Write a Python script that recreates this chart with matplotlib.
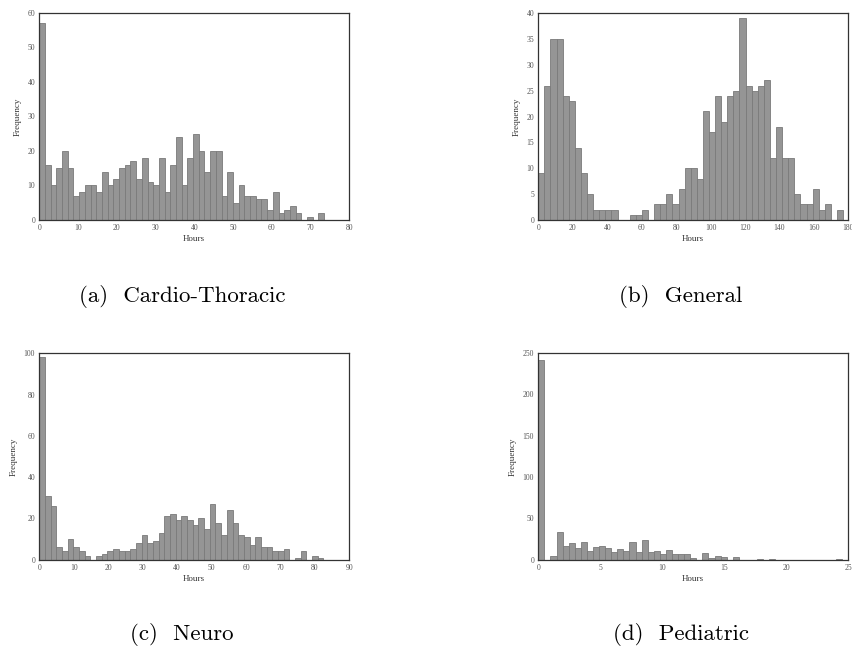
import numpy as np
import matplotlib
matplotlib.use("Agg")
import matplotlib.pyplot as plt

# ---- data: histogram counts (50 bins each) ----
cardio_counts = [57, 16, 10, 15, 20, 15, 7, 8, 10, 10, 8, 14, 10, 12, 15, 16, 17, 12, 18, 11,
                 10, 18, 8, 16, 24, 10, 18, 25, 20, 14, 20, 20, 7, 14, 5, 10, 7, 7, 6, 6,
                 3, 8, 2, 3, 4, 2, 0, 1, 0, 2]
cardio_max = 73.5

general_counts = [9, 26, 35, 35, 24, 23, 14, 9, 5, 2, 2, 2, 2, 0, 0, 1, 1, 2, 0, 3,
                  3, 5, 3, 6, 10, 10, 8, 21, 17, 24, 19, 24, 25, 39, 26, 25, 26, 27, 12, 18,
                  12, 12, 5, 3, 3, 6, 2, 3, 0, 2]
general_max = 177.0

neuro_counts = [98, 31, 26, 6, 4, 10, 6, 4, 2, 0, 2, 3, 4, 5, 4, 4, 5, 8, 12, 8,
                9, 13, 21, 22, 19, 21, 19, 17, 20, 15, 27, 18, 12, 24, 18, 12, 11, 7, 11, 6,
                6, 4, 4, 5, 0, 1, 4, 0, 2, 1]
neuro_max = 82.5

pediatric_counts = [242, 0, 5, 34, 16, 20, 14, 21, 11, 15, 16, 14, 9, 13, 11, 22, 9, 24, 9, 10,
                    7, 12, 7, 7, 7, 2, 0, 8, 2, 4, 3, 0, 3, 0, 0, 0, 1, 0, 1, 0,
                    0, 0, 0, 0, 0, 0, 0, 0, 0, 1]
pediatric_max = 24.5

captions = ["(a)  Cardio-Thoracic", "(b)  General", "(c)  Neuro", "(d)  Pediatric"]
xlims = [80, 180, 90, 25]
ylims = [60, 40, 100, 250]
xticks = [np.arange(0, 81, 10), np.arange(0, 181, 20), np.arange(0, 91, 10), np.arange(0, 26, 5)]
yticks = [np.arange(0, 61, 10), np.arange(0, 41, 5), np.arange(0, 101, 20), np.arange(0, 251, 50)]

panels = [(cardio_counts, cardio_max), (general_counts, general_max),
          (neuro_counts, neuro_max), (pediatric_counts, pediatric_max)]

W, H = 853, 654
fig = plt.figure(figsize=(W / 100, H / 100), dpi=100)

# axes boxes in pixels: left, top, right, bottom
boxes = [(39.3, 12.7, 349.3, 220.0), (538.3, 13.3, 848.3, 220.0),
         (39.3, 353.3, 349.3, 559.7), (538.3, 353.0, 848.3, 559.7)]
caption_pos = [(182, 296), (681, 296), (182, 635), (681, 635)]

tick_font = "Liberation Serif"
for i, ((counts, mx), box) in enumerate(zip(panels, boxes)):
    l, t, r, b = box
    ax = fig.add_axes([l / W, 1 - b / H, (r - l) / W, (b - t) / H])
    edges = np.linspace(0, mx, len(counts) + 1)
    ax.bar(edges[:-1], counts, width=np.diff(edges), align="edge",
           color="#959595", edgecolor="#7a7a7a", linewidth=0.6)
    ax.set_xlim(0, xlims[i])
    ax.set_ylim(0, ylims[i])
    ax.set_xticks(xticks[i])
    ax.set_yticks(yticks[i])
    ax.tick_params(length=0, labelsize=5.5, labelcolor="#555555", pad=3)
    for lab in ax.get_xticklabels() + ax.get_yticklabels():
        lab.set_fontfamily(tick_font)
    ax.set_xlabel("Hours", fontsize=6.5, family=tick_font, color="#333333", labelpad=2)
    ax.set_ylabel("Frequency", fontsize=6.5, family=tick_font, color="#333333", labelpad=4)
    for s in ax.spines.values():
        s.set_color("#333333")
        s.set_linewidth(0.9)
    cx, cy = caption_pos[i]
    fig.text(cx / W, 1 - cy / H, captions[i], ha="center", va="center",
             fontsize=16.5, family="cmr10")

fig.savefig("out.png", dpi=100)
